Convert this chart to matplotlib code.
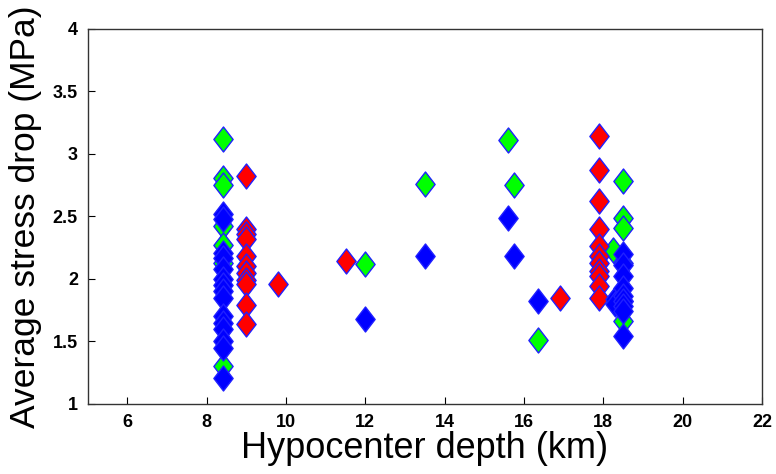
import matplotlib.pyplot as plt
import numpy as np
from matplotlib.path import Path

plt.rcParams['font.family'] = ['Liberation Sans', 'DejaVu Sans']

# green events
green_x = [8.4, 8.4, 8.4, 8.4, 8.4, 8.4, 8.4, 12.0, 13.5, 15.6, 15.75, 16.35, 18.25,
           18.5, 18.5, 18.5, 18.5, 18.5, 18.5]
green_y = [3.12, 2.81, 2.75, 2.42, 2.27, 2.13, 1.30, 2.12, 2.76, 3.11, 2.75, 1.51, 2.23,
           2.78, 2.49, 2.41, 2.13, 1.82, 1.66]

# red events
red_x = [9.0] * 11 + [9.8, 11.5, 16.9] + [17.9] * 11
red_y = [2.82, 2.40, 2.36, 2.32, 2.18, 2.10, 2.05, 1.99, 1.96, 1.79, 1.64,
         1.96, 2.14, 1.85,
         3.14, 2.87, 2.62, 2.40, 2.26, 2.18, 2.13, 2.06, 2.02, 1.94, 1.85]

# blue events
blue_x = [8.4] * 15 + [12.0, 13.5, 15.6, 15.75, 16.35, 18.3, 18.3] + [18.5] * 9
blue_y = [2.52, 2.48, 2.21, 2.17, 2.08, 2.00, 1.95, 1.90, 1.85, 1.70, 1.65, 1.60, 1.50, 1.45, 1.21,
          1.68, 2.18, 2.49, 2.18, 1.82, 1.84, 1.80,
          2.20, 2.11, 2.02, 1.93, 1.86, 1.82, 1.78, 1.74, 1.54]

# tall diamond like matlab
w = 0.77
diamond = Path([(0, 1), (w, 0), (0, -1), (-w, 0), (0, 1)],
               [Path.MOVETO, Path.LINETO, Path.LINETO, Path.LINETO, Path.CLOSEPOLY])

fig = plt.figure(figsize=(7.76, 4.74), dpi=100)
ax = fig.add_axes([0.113, 0.148, 0.869, 0.791])

for xs, ys, c in [(green_x, green_y, (0, 1, 0)), (red_x, red_y, (1, 0, 0)), (blue_x, blue_y, (0, 0, 1))]:
    ax.plot(xs, ys, linestyle='none', marker=diamond, markersize=18,
            markerfacecolor=c, markeredgecolor='#2020ff', markeredgewidth=1)

ax.set_xlim(5, 22)
ax.set_ylim(1, 4)
ax.set_xticks(np.arange(6, 23, 2))
ax.set_yticks([1, 1.5, 2, 2.5, 3, 3.5, 4])
ax.set_yticklabels(['1', '1.5', '2', '2.5', '3', '3.5', '4'])
ax.tick_params(direction='in', length=5, width=0.8, labelsize=13, top=False, right=False, pad=7)
for lab in ax.get_xticklabels() + ax.get_yticklabels():
    lab.set_fontweight('bold')
for s in ax.spines.values():
    s.set_linewidth(1.0)
    s.set_color('#333333')

ax.set_xlabel('Hypocenter depth (km)', fontsize=26, labelpad=0)
ax.set_ylabel('Average stress drop (MPa)', fontsize=25.5)
ax.yaxis.set_label_coords(-0.068, 0.5)

fig.savefig('out.png', dpi=100)
